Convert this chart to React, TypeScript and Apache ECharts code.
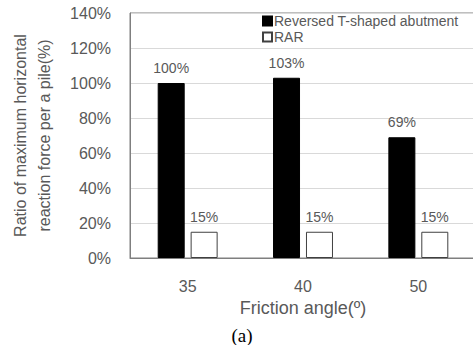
import React, { useEffect, useRef } from "react";
import * as echarts from "echarts";

const categories = ["35", "40", "50"];
const reversedT = [100, 103, 69];
const rar = [15, 15, 15];
const seriesNames = ["Reversed T-shaped abutment", "RAR"];

const FONT = "'Liberation Sans', Arial, sans-serif";
const GRAY = "#595959";

export default function App() {
  const ref = useRef<HTMLDivElement>(null);

  useEffect(() => {
    if (!ref.current) return;
    const chart = echarts.init(ref.current, null, { renderer: "svg" });
    chart.setOption({
      animation: false,
      backgroundColor: "#fff",
      textStyle: { fontFamily: FONT },
      grid: {
        left: 128,
        right: 4,
        top: 13,
        bottom: 87,
        show: true,
        borderColor: "#7f7f7f",
        borderWidth: 1,
      },
      legend: {
        orient: "vertical",
        left: 262,
        top: 14,
        padding: 0,
        icon: "rect",
        itemWidth: 9,
        itemHeight: 9,
        itemGap: 2,
        textStyle: { fontSize: 14, color: GRAY, fontFamily: FONT, padding: [0, 0, 0, -3] },
        data: seriesNames,
      },
      xAxis: {
        type: "category",
        data: categories,
        name: "Friction angle(º)",
        nameLocation: "middle",
        nameGap: 39,
        nameTextStyle: { fontSize: 18, color: GRAY, fontFamily: FONT },
        axisTick: { show: false },
        axisLine: { lineStyle: { color: "#7f7f7f" } },
        axisLabel: { fontSize: 16, color: GRAY, margin: 20, fontFamily: FONT },
      },
      yAxis: {
        type: "value",
        min: 0,
        max: 140,
        interval: 20,
        name: "Ratio of maximum horizontal\nreaction force per a pile(%)",
        nameLocation: "middle",
        nameGap: 74,
        nameTextStyle: { fontSize: 16, color: GRAY, lineHeight: 24, fontFamily: FONT },
        axisLine: { show: true, lineStyle: { color: "#7f7f7f" } },
        axisTick: { show: false },
        axisLabel: { fontSize: 16, color: GRAY, margin: 19, formatter: "{value}%", fontFamily: FONT },
        splitLine: { lineStyle: { color: "#d9d9d9" } },
      },
      series: [
        {
          name: seriesNames[0],
          type: "bar",
          data: reversedT,
          barWidth: 27,
          barGap: "22%",
          itemStyle: { color: "#000", borderColor: "#000", borderWidth: 1 },
          label: {
            show: true,
            position: "top",
            distance: 8,
            formatter: "{c}%",
            fontSize: 14,
            color: GRAY,
            fontFamily: FONT,
          },
        },
        {
          name: seriesNames[1],
          type: "bar",
          data: rar,
          barWidth: 27,
          itemStyle: { color: "#fff", borderColor: "#404040", borderWidth: 1 },
          label: {
            show: true,
            position: "top",
            distance: 8,
            formatter: "{c}%",
            fontSize: 14,
            color: GRAY,
            fontFamily: FONT,
          },
        },
      ],
      graphic: [
        {
          type: "text",
          x: 242,
          y: 335,
          style: {
            text: "(a)",
            fontSize: 19,
            fontFamily: "'Liberation Serif', 'Times New Roman', serif",
            fill: "#000",
            textAlign: "center",
            textVerticalAlign: "middle",
          },
        },
      ],
    });
    return () => chart.dispose();
  }, []);

  return (
    <div
      style={{
        position: "absolute",
        left: 0,
        top: 0,
        width: 473,
        height: 345,
        overflow: "hidden",
        background: "#fff",
      }}
    >
      <div ref={ref} style={{ width: 480, height: 345 }} />
    </div>
  );
}
